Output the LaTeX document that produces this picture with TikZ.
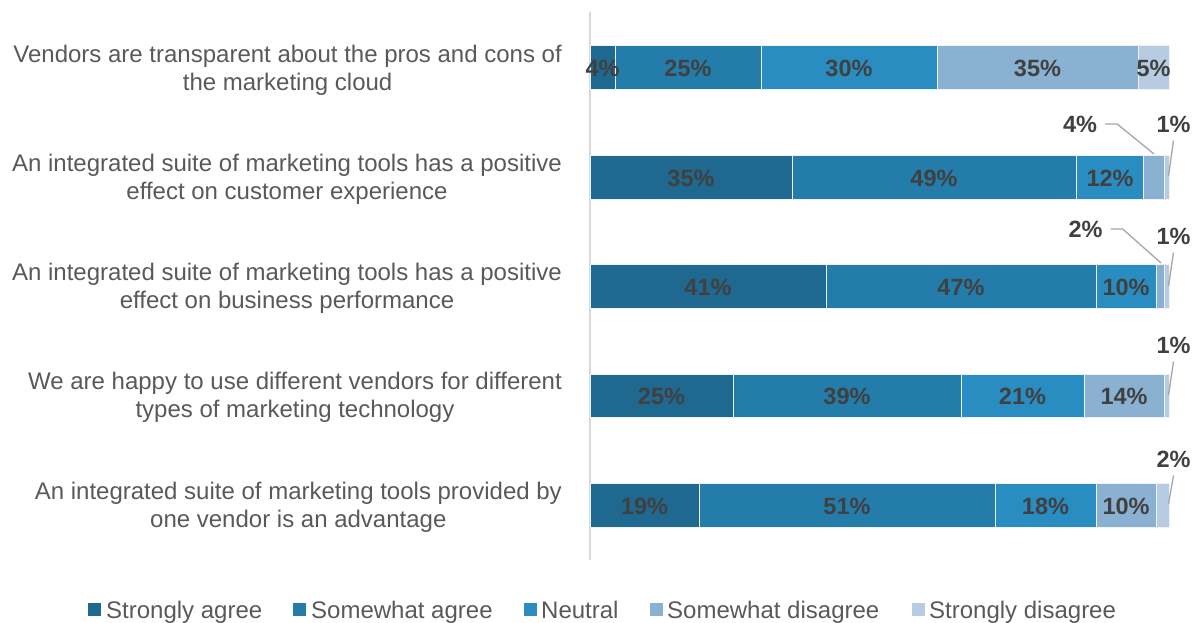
\documentclass[tikz,border=0pt]{standalone}
\usepackage{fontspec}
\setmainfont{Liberation Sans}
\definecolor{cA}{RGB}{31,104,143}
\definecolor{cB}{RGB}{36,124,170}
\definecolor{cC}{RGB}{42,141,194}
\definecolor{cD}{RGB}{139,177,210}
\definecolor{cE}{RGB}{183,204,227}
\definecolor{txtgray}{RGB}{89,89,89}
\definecolor{lblgray}{RGB}{64,64,64}
\definecolor{leadgray}{RGB}{166,166,166}
\definecolor{axisgray}{RGB}{217,217,217}
\tikzset{
  seg/.style={draw=white!92!cA, line width=0.8pt},
  lbl/.style={font=\fontsize{23.5}{26}\selectfont\bfseries, text=lblgray, inner sep=0pt, anchor=center},
  cat/.style={font=\fontsize{24}{28}\selectfont, text=txtgray, align=center, anchor=east, inner sep=0pt},
  leg/.style={font=\fontsize{24}{28}\selectfont, text=txtgray, anchor=base west, inner sep=0pt},
  legsq/.style={minimum size=13pt, inner sep=0pt, draw=none, anchor=north west},
  leader/.style={draw=leadgray, line width=1.3pt},
}
\newcommand{\barrow}[8]{%
  \fill[cA] (#3,#1) rectangle (#4,#2);
  \fill[cB] (#4,#1) rectangle (#5,#2);
  \fill[cC] (#5,#1) rectangle (#6,#2);
  \fill[cD] (#6,#1) rectangle (#7,#2);
  \fill[cE] (#7,#1) rectangle (#8,#2);
  \foreach \xx in {#4,#5,#6,#7}{\draw[seg] (\xx,#1) -- (\xx,#2);}
  \draw[seg] (#3,#1) rectangle (#8,#2);
}
\begin{document}
\begin{tikzpicture}[x=1pt,y=-1pt]
\useasboundingbox (0,0) rectangle (1198,622);
% axis
\draw[axisgray, line width=1.6pt] (590,12) -- (590,560);
\barrow{45.5}{89}{590}{615}{761}{937}{1138}{1169}
\barrow{155}{199}{590}{792}{1076}{1143}{1164}{1169}
\barrow{264}{308}{590}{826}{1096}{1156}{1164}{1169}
\barrow{374}{417}{590}{733}{961}{1084}{1164}{1169}
\barrow{483}{527}{590}{699}{995}{1096}{1156}{1169}
% inner labels
\node[lbl] (l1a) at (602.5,68) {4\%};
\node[lbl] (l1b) at (688,68) {25\%};
\node[lbl] (l1c) at (849,68) {30\%};
\node[lbl] (l1d) at (1037.5,68) {35\%};
\node[lbl] (l1e) at (1153.5,68) {5\%};
\node[lbl] (l2a) at (691,178) {35\%};
\node[lbl] (l2b) at (934,178) {49\%};
\node[lbl] (l2c) at (1110,178) {12\%};
\node[lbl] (l3a) at (708,287) {41\%};
\node[lbl] (l3b) at (961,287) {47\%};
\node[lbl] (l3c) at (1126,287) {10\%};
\node[lbl] (l4a) at (661.5,396) {25\%};
\node[lbl] (l4b) at (847,396) {39\%};
\node[lbl] (l4c) at (1022.5,396) {21\%};
\node[lbl] (l4d) at (1124,396) {14\%};
\node[lbl] (l5a) at (644.5,506) {19\%};
\node[lbl] (l5b) at (847,506) {51\%};
\node[lbl] (l5c) at (1045.5,506) {18\%};
\node[lbl] (l5d) at (1126,506) {10\%};
% outer labels
\node[lbl] (o2a) at (1080,124) {4\%};
\node[lbl] (o2b) at (1173.5,124) {1\%};
\node[lbl] (o3a) at (1085.5,229) {2\%};
\node[lbl] (o3b) at (1173.5,236) {1\%};
\node[lbl] (o4b) at (1173.5,345) {1\%};
\node[lbl] (o5b) at (1173.5,459) {2\%};
% leader targets
\coordinate (t2a) at (1154,154);
\coordinate (t2b) at (1168.5,176);
\coordinate (t3a) at (1161,263);
\coordinate (t3b) at (1168.5,286);
\coordinate (t4b) at (1168.5,395);
\coordinate (t5b) at (1168.5,504);
\draw[leader] ([xshift=8pt]o2a.east) -- ++(12,0) -- (t2a);
\draw[leader] ([yshift=-8pt]o2b.south) -- (t2b);
\draw[leader] ([xshift=8pt]o3a.east) -- ++(12,0) -- (t3a);
\draw[leader] ([yshift=-8pt]o3b.south) -- (t3b);
\draw[leader] ([yshift=-8pt]o4b.south) -- (t4b);
\draw[leader] ([yshift=-8pt]o5b.south) -- (t5b);
% category labels
\node[cat] (c1) at (562,70) {Vendors are transparent about the pros and cons of\\the marketing cloud};
\node[cat] (c2) at (562,179) {An integrated suite of marketing tools has a positive\\effect on customer experience};
\node[cat] (c3) at (562,288) {An integrated suite of marketing tools has a positive\\effect on business performance};
\node[cat] (c4) at (562,397) {We are happy to use different vendors for different\\types of marketing technology};
\node[cat] (c5) at (562,507) {An integrated suite of marketing tools provided by\\one vendor is an advantage};
% legend
\node[legsq, fill=cA] (s1) at (88,603) {};
\node[leg] (g1) at (106,618) {Strongly agree};
\node[legsq, fill=cB] (s2) at (293,603) {};
\node[leg] (g2) at (311,618) {Somewhat agree};
\node[legsq, fill=cC] (s3) at (524,603) {};
\node[leg] (g3) at (541,618) {Neutral};
\node[legsq, fill=cD] (s4) at (650,603) {};
\node[leg] (g4) at (667,618) {Somewhat disagree};
\node[legsq, fill=cE] (s5) at (912,603) {};
\node[leg] (g5) at (929,618) {Strongly disagree};
\end{tikzpicture}
\end{document}
